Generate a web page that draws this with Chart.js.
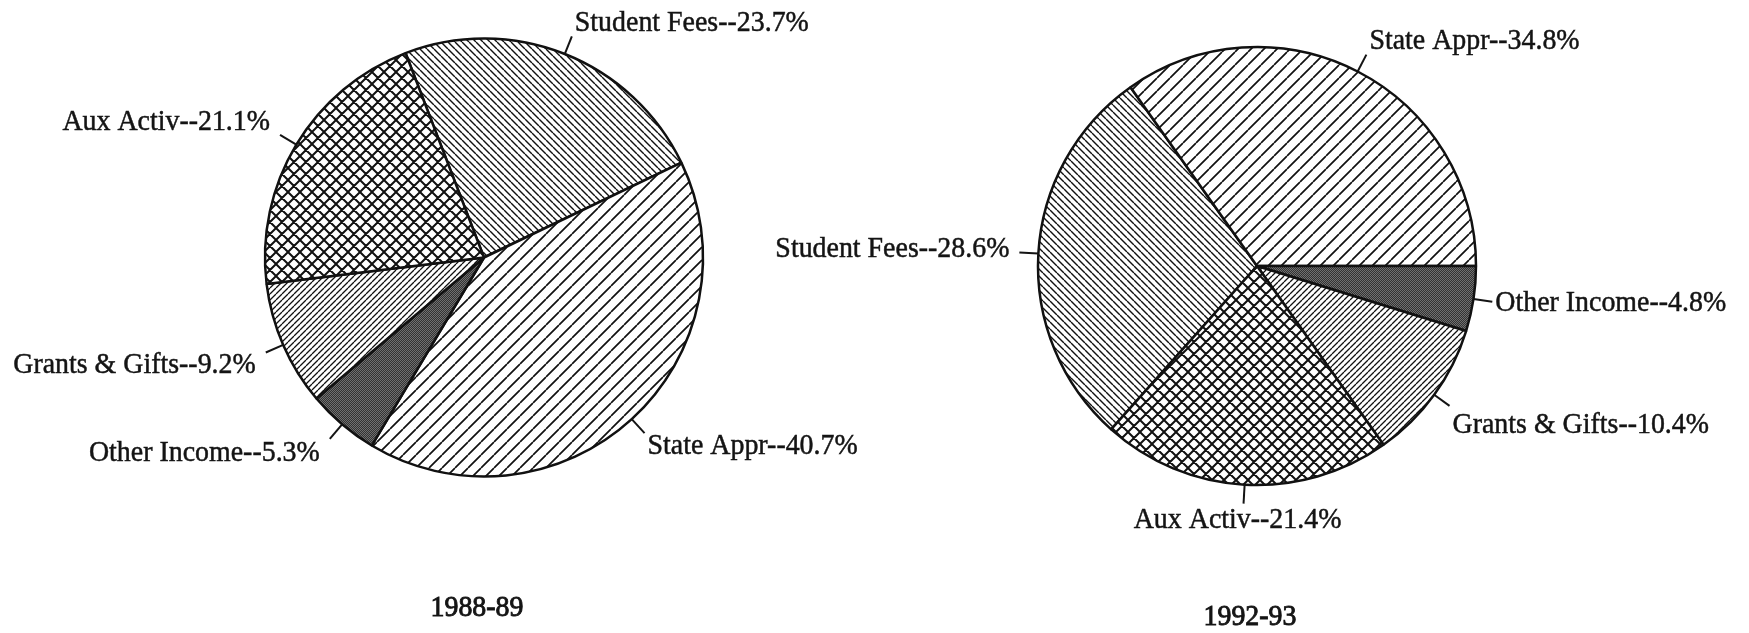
<!DOCTYPE html>
<html>
<head>
<meta charset="utf-8">
<script src="https://cdn.jsdelivr.net/npm/chart.js@4/dist/chart.umd.min.js"></script>
<style>
  html, body { margin: 0; padding: 0; background: #fff; }
  #wrap { position: relative; width: 1749px; height: 633px; background: #fff; }
  #wrap canvas { position: absolute; left: 0; top: 0; }
</style>
</head>
<body>
<div id="wrap">
  <canvas id="c1" width="1749" height="633"></canvas>
  <canvas id="c2" width="1749" height="633"></canvas>
</div>
<script>
// ---- data ----
const categories = ['Student Fees', 'State Appr', 'Other Income', 'Grants & Gifts', 'Aux Activ'];
const values1988 = [23.7, 40.7, 5.3, 9.2, 21.1];
const values1992 = [28.6, 34.8, 4.8, 10.4, 21.4];
const yearLabels = ['1988-89', '1992-93'];

// ---- patterns ----
function linePattern(size, dirs, lw) {
  const c = document.createElement('canvas');
  c.width = c.height = size;
  const g = c.getContext('2d');
  g.fillStyle = '#fff';
  g.fillRect(0, 0, size, size);
  g.strokeStyle = '#111';
  g.lineWidth = lw;
  g.beginPath();
  for (const d of dirs) {
    for (let k = -1; k <= 1; k++) {
      if (d === '/') { g.moveTo(k * size, size); g.lineTo(k * size + size, 0); }
      else { g.moveTo(k * size, 0); g.lineTo(k * size + size, size); }
    }
  }
  g.stroke();
  return g.createPattern(c, 'repeat');
}
function stipplePattern() {
  const c = document.createElement('canvas');
  c.width = c.height = 2;
  const g = c.getContext('2d');
  g.fillStyle = '#333'; g.fillRect(0, 0, 2, 2);
  g.fillStyle = '#707070'; g.fillRect(0, 0, 1, 1); g.fillRect(1, 1, 1, 1);
  return g.createPattern(c, 'repeat');
}
const fills = [
  linePattern(7, ['\\'], 1.4),      // Student Fees
  linePattern(13, ['/'], 1.7),      // State Appr
  stipplePattern(),                 // Other Income
  linePattern(6, ['/'], 1.3),       // Grants & Gifts
  linePattern(12, ['/', '\\'], 2.0) // Aux Activ
];

const FONT = '30px "Liberation Serif", "Times New Roman", serif';
const SX = 0.93;

function drawText(ctx, text, x, y, align, sw) {
  ctx.save();
  ctx.translate(x, y);
  ctx.scale(SX, 1);
  ctx.textAlign = align;
  ctx.textBaseline = 'middle';
  ctx.lineWidth = sw;
  ctx.strokeText(text, 0, 0);
  ctx.fillText(text, 0, 0);
  ctx.restore();
}

const labelPlugin = {
  id: 'pieLabels',
  afterDatasetsDraw(chart, args, opts) {
    const ctx = chart.ctx;
    const meta = chart.getDatasetMeta(0);
    const vals = chart.data.datasets[0].data;
    const nudge = opts.nudge || [];
    ctx.save();
    ctx.font = FONT;
    ctx.fillStyle = '#141414';
    ctx.strokeStyle = '#141414';
    let cx = 0, cy = 0;
    meta.data.forEach((arc, i) => {
      const p = arc.getProps(['x', 'y', 'startAngle', 'endAngle', 'outerRadius'], true);
      cx = p.x; cy = p.y;
      const mid = (p.startAngle + p.endAngle) / 2;
      const dx = Math.cos(mid), dy = Math.sin(mid);
      const r0 = p.outerRadius, r1 = p.outerRadius + 19;
      const ex = p.x + dx * r1, ey = p.y + dy * r1;
      ctx.lineWidth = 2;
      ctx.beginPath();
      ctx.moveTo(p.x + dx * r0, p.y + dy * r0);
      ctx.lineTo(ex, ey);
      ctx.stroke();
      const text = chart.data.labels[i] + '--' + vals[i].toFixed(1) + '%';
      let tx, ty, align;
      if (dx > 0.3) { align = 'left'; tx = ex + 3; }
      else if (dx < -0.3) { align = 'right'; tx = ex - 10; }
      else { align = 'center'; tx = ex - 6; }
      if (Math.abs(dy) > 0.3) ty = ey + Math.sign(dy) * 13;
      else ty = ey + dy * 14 - 3;
      ty += (nudge[i] || 0);
      drawText(ctx, text, tx, ty, align, 0.5);
    });
    drawText(ctx, opts.title, cx - 7, cy + 351, 'center', 0.9);
    ctx.restore();
  }
};

function makeChart(id, values, rotation, padding, title, nudge) {
  return new Chart(document.getElementById(id), {
    type: 'pie',
    data: {
      labels: categories,
      datasets: [{
        data: values,
        backgroundColor: fills,
        borderColor: '#111',
        borderWidth: 2.5,
        radius: 219,
        hoverOffset: 0
      }]
    },
    options: {
      responsive: false,
      animation: false,
      events: [],
      rotation: rotation,
      layout: { padding: padding },
      plugins: {
        legend: { display: false },
        tooltip: { enabled: false },
        pieLabels: { title: title, nudge: nudge }
      }
    },
    plugins: [labelPlugin]
  });
}

makeChart('c1', values1988, -21, { left: 0, right: 781, top: 0, bottom: 118 }, yearLabels[0], [0, 0, 1, 0, 0]);
makeChart('c2', values1992, -138.24, { left: 765, right: 0, top: 0, bottom: 101 }, yearLabels[1], [0, 0, 2, 6, 4]);
</script>
</body>
</html>
